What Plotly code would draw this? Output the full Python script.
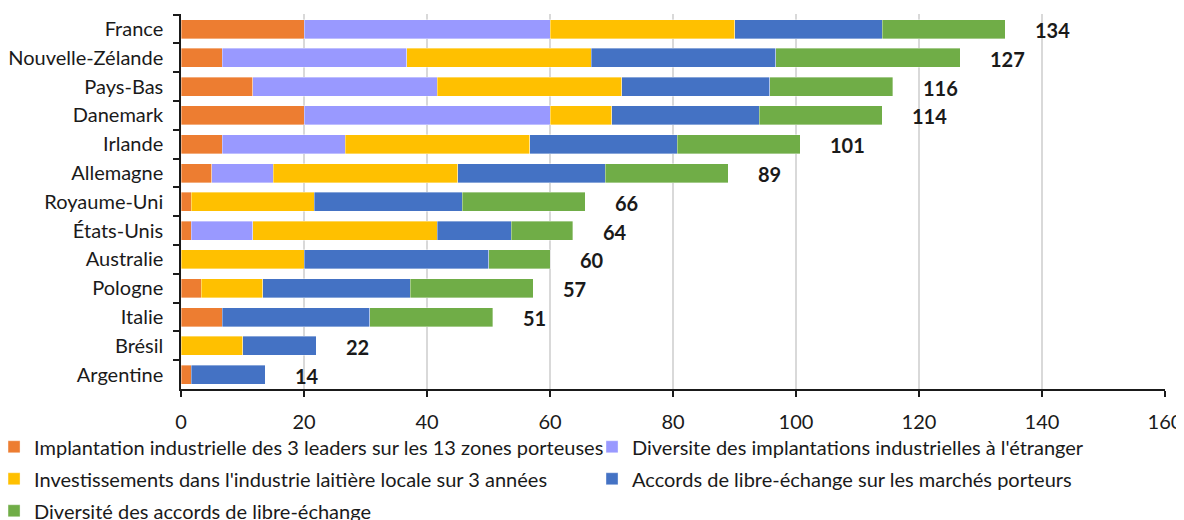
import plotly.graph_objects as go

countries = ["France", "Nouvelle-Zélande", "Pays-Bas", "Danemark", "Irlande", "Allemagne",
             "Royaume-Uni", "États-Unis", "Australie", "Pologne", "Italie", "Brésil", "Argentine"]

implantation = [20, 6.7, 11.7, 20, 6.7, 5, 1.7, 1.7, 0, 3.3, 6.7, 0, 1.7]
diversite_impl = [40, 30, 30, 40, 20, 10, 0, 10, 0, 0, 0, 0, 0]
investissements = [30, 30, 30, 10, 30, 30, 20, 30, 20, 10, 0, 10, 0]
accords = [24, 30, 24, 24, 24, 24, 24, 12, 30, 24, 24, 12, 12]
diversite_acc = [20, 30, 20, 20, 20, 20, 20, 10, 10, 20, 20, 0, 0]

series_names = [
    "Implantation industrielle des 3 leaders sur les 13 zones porteuses",
    "Diversite des implantations industrielles à l'étranger",
    "Investissements dans l'industrie laitière locale sur 3 années",
    "Accords de libre-échange sur les marchés porteurs",
    "Diversité des accords de libre-échange",
]
series_values = [implantation, diversite_impl, investissements, accords, diversite_acc]
colors = ["#ED7D31", "#9999FF", "#FFC000", "#4472C4", "#70AD47"]
# legend column for each series (Excel-style two-column legend)
legend_ids = ["legend", "legend2", "legend", "legend2", "legend"]

x_ticks = [0, 20, 40, 60, 80, 100, 120, 140, 160]

FONT = "Lato"
TXT = "#1a1a1a"

fig = go.Figure()
for i, (name, vals, col, lg) in enumerate(zip(series_names, series_values, colors, legend_ids)):
    fig.add_trace(go.Bar(
        y=countries, x=vals, name=name, orientation="h",
        marker=dict(color=col, line=dict(color="rgba(255,255,255,0.6)", width=0.6)),
        legend=lg, legendgroup=f"g{i}",
        hoverinfo="x+y+name",
    ))

totals = [sum(v) for v in zip(*series_values)]
for c, t in zip(countries, totals):
    fig.add_annotation(x=t, y=c, text=f"<b>{round(t)}</b>", showarrow=False,
                       xanchor="left", xshift=28, yshift=-1,
                       font=dict(family=FONT, size=20, color=TXT))

legend_common = dict(
    orientation="v", xref="paper", yref="paper",
    yanchor="top", xanchor="left",
    font=dict(family=FONT, size=20, color=TXT),
    itemwidth=30, tracegroupgap=3, bgcolor="rgba(0,0,0,0)",
)

fig.update_layout(
    barmode="stack",
    bargap=0.34,
    width=1176, height=512,
    margin=dict(l=173, r=19, t=6, b=131, autoexpand=False),
    paper_bgcolor="white", plot_bgcolor="white",
    font=dict(family=FONT, size=20, color=TXT),
    showlegend=True,
    legend=dict(x=-0.19, y=-0.102, **legend_common),
    legend2=dict(x=0.4177, y=-0.102, **legend_common),
    xaxis=dict(
        range=[0, 160], tickvals=x_ticks, ticktext=[str(v) for v in x_ticks],
        showgrid=True, gridcolor="#D9D9D9", gridwidth=1.5,
        showline=True, linecolor="#1a1a1a", linewidth=1.5,
        ticks="outside", ticklen=6, tickcolor="#1a1a1a", tickwidth=1.5,
        ticklabelstandoff=8,
        zeroline=False, tickfont=dict(size=20), automargin=False,
    ),
    yaxis=dict(
        autorange="reversed", showline=True, linecolor="#1a1a1a", linewidth=1.5,
        ticks="outside", ticklen=6, tickcolor="#1a1a1a", tickwidth=1.5,
        ticklabelstandoff=12,
        tickson="boundaries", showgrid=False, tickfont=dict(size=20), automargin=False,
    ),
)

fig.write_html("out.html")
